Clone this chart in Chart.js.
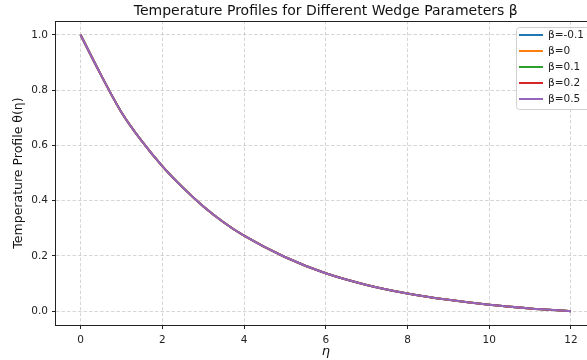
<!DOCTYPE html>
<html>
<head>
<meta charset="utf-8">
<script src="https://cdn.jsdelivr.net/npm/chart.js@4.4.1/dist/chart.umd.min.js"></script>
<style>
  html, body { margin: 0; padding: 0; background: #fff; overflow: hidden; }
  #wrap { position: relative; width: 610px; height: 360px; }
</style>
</head>
<body>
<div id="wrap"><canvas id="chart"></canvas></div>
<script>
// values (all five curves overlap)
const etaValues = [0, 0.5, 1, 1.5, 2, 2.5, 3, 3.5, 4, 5, 6, 7, 8, 9, 10, 11, 12];
const thetaBetaM01 = [1.0, 0.855, 0.72, 0.615, 0.525, 0.448, 0.38, 0.322, 0.273, 0.196, 0.137, 0.095, 0.064, 0.041, 0.023, 0.010, 0.0];
const thetaBeta0   = [1.0, 0.855, 0.72, 0.615, 0.525, 0.448, 0.38, 0.322, 0.273, 0.196, 0.137, 0.095, 0.064, 0.041, 0.023, 0.010, 0.0];
const thetaBeta01  = [1.0, 0.855, 0.72, 0.615, 0.525, 0.448, 0.38, 0.322, 0.273, 0.196, 0.137, 0.095, 0.064, 0.041, 0.023, 0.010, 0.0];
const thetaBeta02  = [1.0, 0.855, 0.72, 0.615, 0.525, 0.448, 0.38, 0.322, 0.273, 0.196, 0.137, 0.095, 0.064, 0.041, 0.023, 0.010, 0.0];
const thetaBeta05  = [1.0, 0.855, 0.72, 0.615, 0.525, 0.448, 0.38, 0.322, 0.273, 0.196, 0.137, 0.095, 0.064, 0.041, 0.023, 0.010, 0.0];
const seriesLabels = ['β=-0.1', 'β=0', 'β=0.1', 'β=0.2', 'β=0.5'];
const seriesColors = ['#1f77b4', '#ff7f0e', '#2ca02c', '#d62728', '#9467bd'];
const xTickValues = [0, 2, 4, 6, 8, 10, 12];
const yTickValues = [0, 0.2, 0.4, 0.6, 0.8, 1.0];

const FONT = 'DejaVu Sans';
const series = [thetaBetaM01, thetaBeta0, thetaBeta01, thetaBeta02, thetaBeta05];

// later series drawn on top, like matplotlib
const datasets = series.map((vals, i) => ({
  label: seriesLabels[i],
  data: etaValues.map((x, j) => ({ x, y: vals[j] })),
  borderColor: seriesColors[i],
  backgroundColor: seriesColors[i],
  borderWidth: 2,
  pointRadius: 0,
  cubicInterpolationMode: 'monotone',
  fill: false,
  order: series.length - i
}));

const gridOpts = {
  color: 'rgba(176,176,176,0.65)',
  lineWidth: 0.8,
  drawTicks: true,
  tickLength: 4,
  tickColor: '#222',
  tickBorderDash: [],
  tickWidth: 1
};
const borderOpts = { display: false, dash: [3.5, 2] };

const framePlugin = {
  id: 'frame',
  afterDatasetsDraw(chart) {
    const { ctx, chartArea: a } = chart;
    ctx.save();
    ctx.strokeStyle = '#222';
    ctx.lineWidth = 1;
    ctx.strokeRect(Math.round(a.left) - 0.5, Math.round(a.top) + 0.5, a.right - a.left, Math.round(a.bottom - a.top));
    ctx.restore();

    // legend, upper right inside the axes
    const x0 = 516, y0 = 27, w = 75, rowH = 16;
    const h = rowH * datasets.length + 2;
    ctx.save();
    ctx.fillStyle = 'rgba(255,255,255,0.85)';
    ctx.strokeStyle = '#d0d0d0';
    ctx.lineWidth = 1;
    ctx.beginPath();
    ctx.roundRect(x0 + 0.5, y0 + 0.5, w, h, 3);
    ctx.fill();
    ctx.stroke();
    ctx.font = '10.5px "' + FONT + '"';
    ctx.textBaseline = 'middle';
    chart.data.datasets.forEach((ds, i) => {
      const cy = y0 + 8 + i * rowH;
      ctx.strokeStyle = ds.borderColor;
      ctx.lineWidth = 2;
      ctx.beginPath();
      ctx.moveTo(x0 + 3, cy);
      ctx.lineTo(x0 + 27, cy);
      ctx.stroke();
      ctx.fillStyle = '#222';
      ctx.fillText(ds.label, x0 + 32, cy);
    });
    ctx.restore();

    // title centred over the axes
    ctx.save();
    ctx.font = '14px "' + FONT + '"';
    ctx.fillStyle = '#111';
    ctx.textAlign = 'center';
    ctx.textBaseline = 'middle';
    ctx.fillText('Temperature Profiles for Different Wedge Parameters β', (a.left + a.right) / 2, 11);
    ctx.restore();
  }
};

new Chart(document.getElementById('chart'), {
  type: 'line',
  data: { datasets },
  plugins: [framePlugin],
  options: {
    responsive: true,
    maintainAspectRatio: false,
    devicePixelRatio: 1,
    animation: false,
    layout: { padding: { top: 21, right: 14.5, left: 0, bottom: 0 } },
    plugins: { legend: { display: false }, tooltip: { enabled: false }, title: { display: false } },
    scales: {
      x: {
        type: 'linear',
        min: -0.6,
        max: 12.6,
        afterBuildTicks: s => { s.ticks = xTickValues.map(v => ({ value: v })); },
        afterFit: s => { s.height = 35; },
        grid: gridOpts,
        border: borderOpts,
        ticks: { color: '#222', font: { family: FONT, size: 10.5 }, padding: 5, maxRotation: 0, callback: v => String(v) },
        title: { display: true, text: 'η', color: '#111', font: { family: FONT, size: 13, style: 'italic' }, padding: { top: 0, bottom: 1 } }
      },
      y: {
        type: 'linear',
        min: -0.05,
        max: 1.05,
        afterBuildTicks: s => { s.ticks = yTickValues.map(v => ({ value: v })); },
        afterFit: s => { s.width = 56; },
        grid: gridOpts,
        border: borderOpts,
        ticks: { color: '#222', font: { family: FONT, size: 10.5 }, padding: 4, callback: v => v.toFixed(1) },
        title: { display: true, text: 'Temperature Profile θ(η)', color: '#111', font: { family: FONT, size: 12.5 }, padding: { top: 11, bottom: 0 } }
      }
    }
  }
});
</script>
</body>
</html>
